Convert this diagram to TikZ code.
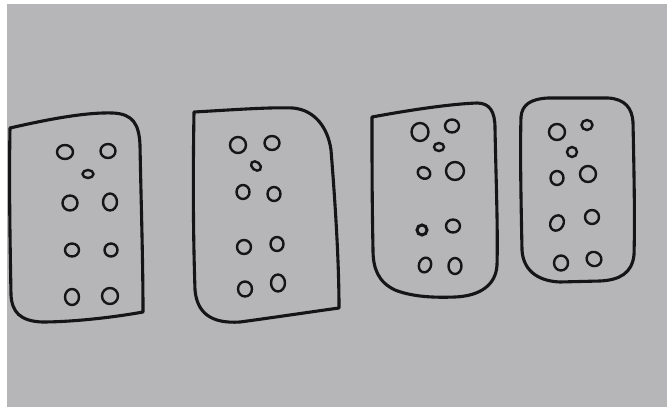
\documentclass[tikz,border=0pt]{standalone}
\begin{document}
\begin{tikzpicture}[x=1pt,y=-1pt,
  outline/.style={line width=3.1pt,draw=ink,line join=round},
  dot/.style={line width=2.4pt,draw=ink}]
\definecolor{ink}{HTML}{151517}
\definecolor{paper}{HTML}{B6B5B7}
\useasboundingbox (0,0) rectangle (667,407);
\fill[white] (0,0) rectangle (667,407);
\fill[paper] (7,4) rectangle (667,407);
% card 1
\draw[outline] (10,128) .. controls (45,120) and (85,112) .. (113,113)
  .. controls (133,114) and (139,124) .. (140,145)
  .. controls (141,200) and (143,260) .. (143,312)
  .. controls (110,318) and (70,322) .. (42,322)
  .. controls (20,321) and (12,312) .. (11,295)
  .. controls (10,240) and (9,180) .. cycle;
\draw[dot] (65,152) ellipse [x radius=8,y radius=7];
\draw[dot] (108,151) ellipse [x radius=7.5,y radius=7];
\draw[dot] (88,174) ellipse [x radius=5.5,y radius=4];
\draw[dot] (70,203) ellipse [x radius=7.5,y radius=7.5];
\draw[dot] (110,202) ellipse [x radius=7,y radius=8.5];
\draw[dot] (72,250) ellipse [x radius=7,y radius=6.5];
\draw[dot] (111,250) ellipse [x radius=6.5,y radius=6.5];
\draw[dot] (72,297) ellipse [x radius=7,y radius=8];
\draw[dot] (110,296) ellipse [x radius=8,y radius=8];
% card 2
\draw[outline] (194,112) .. controls (230,110) and (270,107) .. (293,108)
  .. controls (315,110) and (328,128) .. (331,150)
  .. controls (335,200) and (339,260) .. (339,308)
  .. controls (310,312) and (270,318) .. (240,322)
  .. controls (210,324) and (197,312) .. (195,290)
  .. controls (193,230) and (193,170) .. cycle;
\draw[dot] (238,145) ellipse [x radius=8,y radius=8];
\draw[dot] (272,143) ellipse [x radius=7.5,y radius=7];
\draw[dot, rotate around={-40:(256,166)}] (256,166) ellipse [x radius=5.5,y radius=4];
\draw[dot] (243,192) ellipse [x radius=6.5,y radius=7];
\draw[dot] (274,194) ellipse [x radius=6.5,y radius=7];
\draw[dot] (244,247) ellipse [x radius=7,y radius=7];
\draw[dot] (277,244) ellipse [x radius=6.5,y radius=7];
\draw[dot] (245,289) ellipse [x radius=7,y radius=7.5];
\draw[dot] (278,283) ellipse [x radius=7,y radius=8.5];
% card 3
\draw[outline] (372,117) .. controls (410,110) and (450,104) .. (477,103)
  .. controls (490,103) and (495,112) .. (495,128)
  .. controls (496,180) and (498,230) .. (497,265)
  .. controls (496,285) and (480,296) .. (455,297)
  .. controls (430,298) and (410,296) .. (395,290)
  .. controls (378,282) and (373,268) .. (373,250)
  .. controls (372,200) and (372,160) .. cycle;
\draw[dot] (420,132) ellipse [x radius=8.5,y radius=9];
\draw[dot] (452,126) ellipse [x radius=7,y radius=6.5];
\draw[dot] (439,147) ellipse [x radius=5,y radius=4];
\draw[dot, rotate around={-30:(424,173)}] (424,173) ellipse [x radius=6.5,y radius=5.5];
\draw[dot] (455,171) ellipse [x radius=9,y radius=9];
\draw[dot, line width=3pt] (422,230) ellipse [x radius=5,y radius=5];
\draw[dot] (453,226) ellipse [x radius=7,y radius=6.5];
\draw[dot, rotate around={-20:(425,265)}] (425,265) ellipse [x radius=6,y radius=7.5];
\draw[dot] (455,266) ellipse [x radius=6.5,y radius=8];
% card 4
\draw[outline] (521,117) .. controls (522,105) and (530,99) .. (548,98)
  -- (608,98) .. controls (625,99) and (632,108) .. (633,122)
  .. controls (634,170) and (635,220) .. (634,255)
  .. controls (632,273) and (620,280) .. (600,281)
  -- (560,282) .. controls (535,281) and (523,268) .. (522,250)
  .. controls (521,200) and (520,150) .. cycle;
\draw[dot] (557,132) ellipse [x radius=8,y radius=8];
\draw[dot] (587,125) ellipse [x radius=5.5,y radius=5];
\draw[dot] (572,152) ellipse [x radius=5,y radius=5];
\draw[dot] (557,178) ellipse [x radius=6.5,y radius=7];
\draw[dot] (588,174) ellipse [x radius=8,y radius=8];
\draw[dot, rotate around={-30:(557,223)}] (557,223) ellipse [x radius=6.5,y radius=8];
\draw[dot] (592,217) ellipse [x radius=7,y radius=7];
\draw[dot] (561,263) ellipse [x radius=7,y radius=7.5];
\draw[dot, rotate around={-30:(594,259)}] (594,259) ellipse [x radius=7.5,y radius=7];
\end{tikzpicture}
\end{document}
